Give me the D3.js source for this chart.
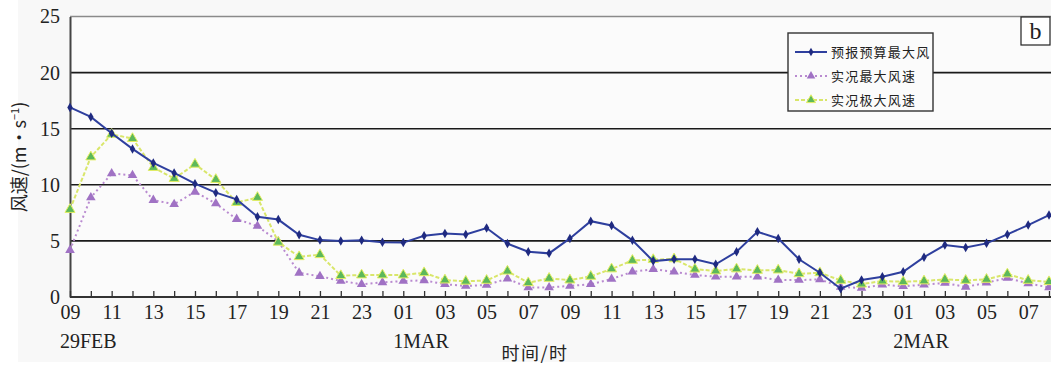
<!DOCTYPE html>
<html>
<head>
<meta charset="utf-8">
<script src="https://cdn.jsdelivr.net/npm/d3@7"></script>
<style>
  html, body { margin: 0; padding: 0; background: #ffffff; }
  svg { display: block; }
</style>
</head>
<body>
<svg id="chart" width="1051" height="365"></svg>
<script>
// Hourly time axis: 09 on 29 Feb through 08 on 2 Mar
const hours = [
  "09","10","11","12","13","14","15","16","17","18","19","20","21","22","23",
  "00","01","02","03","04","05","06","07","08","09","10","11","12","13","14","15","16","17","18","19","20","21","22","23",
  "00","01","02","03","04","05","06","07","08"
];
const dayLabels = [
  { at: 0, text: "29FEB" },
  { at: 16, text: "1MAR" },
  { at: 40, text: "2MAR" }
];
const yTicks = [0, 5, 10, 15, 20, 25];

const seriesNames = ["预报预算最大风", "实况最大风速", "实况极大风速"];

// 预报预算最大风 (forecast maximum wind)
const forecastMax = [
  16.9, 16.05, 14.6, 13.2, 11.95, 11.06, 10.1, 9.3, 8.7, 7.15, 6.9, 5.55, 5.07, 5.0, 5.05,
  4.87, 4.85, 5.45, 5.67, 5.58, 6.15, 4.76, 4.03, 3.89, 5.22, 6.76, 6.38, 5.05, 3.2, 3.36,
  3.36, 2.92, 4.03, 5.81, 5.22, 3.36, 2.16, 0.74, 1.51, 1.81, 2.25, 3.55, 4.63, 4.42, 4.78,
  5.58, 6.41, 7.3
];
// 实况最大风速 (observed maximum wind)
const observedMax = [
  4.18, 8.87, 11.0, 10.85, 8.63, 8.27, 9.37, 8.33, 6.94, 6.32, 4.95, 2.15, 1.85, 1.43, 1.13,
  1.3, 1.42, 1.48, 1.14, 0.98, 1.08, 1.63, 0.85, 0.85, 0.99, 1.14, 1.6, 2.25, 2.47, 2.25,
  1.96, 1.81, 1.81, 1.81, 1.51, 1.51, 1.57, 0.9, 0.8, 1.1, 0.95, 1.1, 1.25, 0.9, 1.27,
  1.7, 1.2, 0.86
];
// 实况极大风速 (observed gust)
const observedGust = [
  7.8, 12.48, 14.5, 14.12, 11.54, 10.56, 11.83, 10.47, 8.42, 8.87, 4.88, 3.59, 3.77, 1.9, 1.96,
  1.96, 1.96, 2.16, 1.51, 1.4, 1.48, 2.3, 1.27, 1.66, 1.51, 1.84, 2.5, 3.26, 3.33, 3.4,
  2.48, 2.32, 2.5, 2.37, 2.4, 2.07, 2.16, 1.48, 1.15, 1.42, 1.36, 1.43, 1.57, 1.48, 1.57,
  2.05, 1.48, 1.36
];

const svg = d3.select("#chart");
const W = 1051, H = 365;
const plot = { left: 70, right: 1049, top: 16.5, bottom: 297 };

// figure background
svg.append("rect").attr("x", 18).attr("y", 0).attr("width", W - 18).attr("height", 362)
  .attr("fill", "#f8f8f8");
svg.append("rect").attr("x", plot.left).attr("y", plot.top)
  .attr("width", W - plot.left).attr("height", plot.bottom - plot.top)
  .attr("fill", "#fbfbfb");

const x = d3.scaleLinear().domain([0, hours.length - 1]).range([plot.left, plot.right]);
const y = d3.scaleLinear().domain([0, 25]).range([plot.bottom, plot.top]);

// horizontal grid lines
svg.append("g").selectAll("line")
  .data(yTicks.filter(v => v > 0 && v < 25))
  .join("line")
  .attr("x1", plot.left).attr("x2", W)
  .attr("y1", d => y(d)).attr("y2", d => y(d))
  .attr("stroke", "#1a1a1a").attr("stroke-width", 1.6);

// top frame line
svg.append("line")
  .attr("x1", plot.left).attr("x2", W)
  .attr("y1", y(25)).attr("y2", y(25))
  .attr("stroke", "#8a8a8a").attr("stroke-width", 1.4);

// y axis
const yAxis = d3.axisLeft(y).tickValues(yTicks).tickSize(0).tickPadding(10);
const gy = svg.append("g").attr("transform", `translate(${plot.left},0)`).call(yAxis);
gy.select(".domain").attr("stroke", "#444").attr("stroke-width", 2);
gy.selectAll("text")
  .attr("font-family", "'Liberation Serif', 'Times New Roman', serif")
  .attr("font-size", 20).attr("fill", "#222");

// x axis: inward ticks each hour, labels every two hours
const xAxis = d3.axisBottom(x)
  .tickValues(d3.range(hours.length))
  .tickSize(-6)
  .tickPadding(10)
  .tickFormat(i => (i % 2 === 0 ? hours[i] : ""));
const gx = svg.append("g").attr("transform", `translate(0,${plot.bottom})`).call(xAxis);
gx.select(".domain").attr("stroke", "#333").attr("stroke-width", 2)
  .attr("d", `M${plot.left},0H${W}`);
gx.selectAll(".tick line").attr("stroke", "#333").attr("stroke-width", 1.3);
gx.selectAll("text")
  .attr("font-family", "'Liberation Serif', 'Times New Roman', serif")
  .attr("font-size", 20).attr("fill", "#222").attr("dy", "0.6em");

// day labels
svg.append("g").selectAll("text")
  .data(dayLabels)
  .join("text")
  .attr("x", d => x(d.at) - 10)
  .attr("y", 348)
  .attr("font-family", "'Liberation Serif', 'Times New Roman', serif")
  .attr("font-size", 20).attr("fill", "#222")
  .text(d => d.text);

// axis titles
svg.append("text")
  .attr("x", 535).attr("y", 360)
  .attr("text-anchor", "middle")
  .attr("font-family", "'Noto Sans CJK SC', sans-serif")
  .attr("font-size", 18).attr("letter-spacing", 1.5).attr("fill", "#222")
  .text("时间/时");

const yTitle = svg.append("text")
  .attr("transform", "translate(26,157) rotate(-90)")
  .attr("text-anchor", "middle")
  .attr("font-family", "'Noto Sans CJK SC', sans-serif")
  .attr("font-size", 18).attr("fill", "#222");
yTitle.append("tspan").text("风速/(m·s");
yTitle.append("tspan").attr("font-size", 11).attr("dy", -7).text("−1");
yTitle.append("tspan").attr("dy", 7).text(")");

// series
const line = d3.line().x((d, i) => x(i)).y(d => y(d));
const series = [
  { name: seriesNames[0], values: forecastMax, stroke: "#2e3f9e", width: 2, dash: null,
    marker: "diamond", fill: "#1f2a80", size: 26, edge: "none" },
  { name: seriesNames[1], values: observedMax, stroke: "#b98ad0", width: 2, dash: "2,3",
    marker: "triangle", fill: "#a072c4", size: 40, edge: "none" },
  { name: seriesNames[2], values: observedGust, stroke: "#d9e66a", width: 2, dash: "4,2",
    marker: "triangle", fill: "#5cb85a", size: 44, edge: "#e4ee62" }
];

const symbolOf = m => (m === "diamond" ? d3.symbolDiamond : d3.symbolTriangle);

// draw observed series first so the forecast line sits on top
[series[1], series[2], series[0]].forEach(s => {
  const g = svg.append("g");
  g.append("path")
    .datum(s.values)
    .attr("d", line)
    .attr("fill", "none")
    .attr("stroke", s.stroke)
    .attr("stroke-width", s.width)
    .attr("stroke-dasharray", s.dash);
  g.selectAll("path.pt")
    .data(s.values)
    .join("path")
    .attr("class", "pt")
    .attr("transform", (d, i) => `translate(${x(i)},${y(d)})`)
    .attr("d", d3.symbol().type(symbolOf(s.marker)).size(s.size))
    .attr("fill", s.fill)
    .attr("stroke", s.edge)
    .attr("stroke-width", 1);
});

// legend
const lg = svg.append("g");
lg.append("rect").attr("x", 788).attr("y", 33).attr("width", 145).attr("height", 78)
  .attr("fill", "#fbfbfb").attr("stroke", "#333").attr("stroke-width", 1.4);
series.forEach((s, i) => {
  const cy = 52 + i * 24;
  lg.append("line").attr("x1", 795).attr("x2", 827).attr("y1", cy).attr("y2", cy)
    .attr("stroke", s.stroke).attr("stroke-width", 2).attr("stroke-dasharray", s.dash);
  lg.append("path").attr("transform", `translate(811,${cy})`)
    .attr("d", d3.symbol().type(symbolOf(s.marker)).size(s.size * 0.8))
    .attr("fill", s.fill)
    .attr("stroke", s.edge);
  lg.append("text").attr("x", 831).attr("y", cy + 5)
    .attr("font-family", "'Noto Sans CJK SC', sans-serif")
    .attr("font-size", 13).attr("letter-spacing", 1.2).attr("fill", "#222")
    .text(s.name);
});

// panel tag
svg.append("rect").attr("x", 1021).attr("y", 17).attr("width", 29).attr("height", 28)
  .attr("fill", "#ffffff").attr("stroke", "#222").attr("stroke-width", 1.2);
svg.append("text").attr("x", 1035.5).attr("y", 39).attr("text-anchor", "middle")
  .attr("font-family", "'Liberation Serif', 'Times New Roman', serif")
  .attr("font-size", 24).attr("fill", "#222").text("b");
</script>
</body>
</html>
